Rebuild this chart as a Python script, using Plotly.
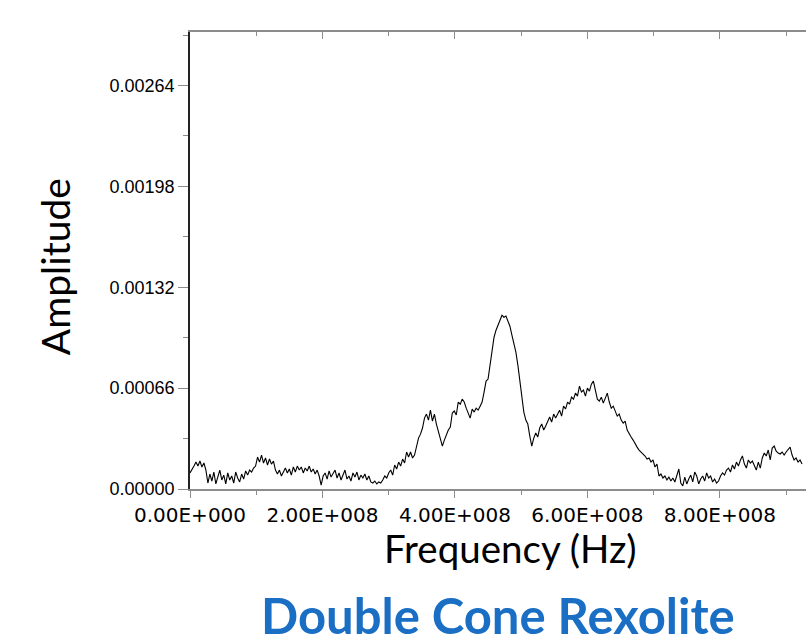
import plotly.graph_objects as go

# Amplitude samples (units of 1e-5), sampled every 3 MHz starting at 0 Hz
amp_e5 = [
    10.5, 12.4, 15.0, 17.6, 15.0, 18.3, 14.4, 17.0, 12.4, 3.9,
    9.8, 5.2, 11.1, 3.3, 8.5, 12.4, 5.9, 9.1, 3.3, 10.5,
    5.9, 8.5, 3.9, 11.1, 7.2, 4.6, 9.8, 6.5, 11.8, 9.1,
    12.4, 11.1, 13.7, 15.0, 20.9, 17.6, 22.2, 17.0, 20.3, 15.7,
    19.6, 16.3, 18.3, 12.4, 9.8, 12.4, 8.5, 11.1, 13.7, 10.5,
    13.1, 9.1, 14.4, 11.1, 15.0, 12.4, 14.4, 10.5, 13.7, 11.8,
    15.0, 11.1, 13.1, 9.8, 12.4, 8.5, 2.6, 8.5, 10.5, 6.5,
    11.8, 7.8, 9.8, 12.4, 7.2, 10.5, 5.9, 9.8, 12.4, 6.5,
    8.5, 5.2, 10.5, 7.8, 11.1, 5.9, 9.1, 7.2, 9.8, 5.9,
    8.5, 4.6, 3.9, 5.2, 3.3, 4.6, 3.9, 5.9, 8.5, 7.2,
    10.5, 12.4, 9.1, 15.7, 13.1, 17.6, 15.0, 19.6, 17.0, 24.2,
    20.9, 24.2, 20.3, 22.2, 27.4, 33.3, 35.9, 39.9, 46.4, 49.0,
    45.1, 51.6, 44.4, 49.0, 42.5, 37.2, 31.4, 28.1, 32.0, 35.9,
    38.6, 40.5, 49.7, 51.0, 48.4, 56.9, 55.5, 58.8, 56.9, 52.9,
    49.0, 46.4, 52.3, 50.3, 52.9, 51.6, 54.2, 56.9, 63.4, 70.6,
    71.9, 81.0, 92.1, 99.3, 103.9, 107.8, 110.4, 113.7, 112.4, 113.1,
    109.1, 106.5, 100.6, 94.8, 89.5, 81.0, 69.9, 59.5, 50.3, 45.1,
    42.5, 34.6, 28.1, 33.3, 36.6, 34.0, 39.9, 42.5, 38.6, 41.2,
    44.4, 47.1, 43.8, 49.0, 46.4, 49.0, 51.6, 47.7, 54.2, 52.3,
    56.9, 55.5, 60.1, 58.8, 62.7, 60.8, 67.3, 63.4, 64.7, 60.8,
    66.0, 64.0, 68.6, 70.6, 64.7, 58.8, 57.5, 60.1, 56.2, 59.5,
    62.7, 56.9, 52.9, 54.2, 50.3, 47.7, 49.0, 45.1, 43.1, 44.4,
    38.6, 35.9, 34.0, 32.0, 29.4, 27.4, 25.5, 24.2, 22.9, 21.6,
    19.6, 20.3, 17.6, 19.0, 14.4, 16.3, 8.5, 9.8, 7.2, 8.5,
    5.9, 7.8, 5.2, 7.2, 4.6, 9.8, 13.1, 3.9, 2.0, 7.8,
    3.3, 6.5, 9.1, 4.6, 11.1, 8.5, 3.3, 6.5, 8.5, 5.2,
    10.5, 7.2, 8.5, 4.6, 6.5, 3.9, 5.2, 8.5, 10.5, 9.1,
    12.4, 13.7, 11.1, 15.7, 13.1, 17.6, 15.0, 19.0, 21.6, 16.3,
    13.7, 19.0, 17.0, 18.3, 15.0, 12.4, 17.6, 13.7, 20.3, 23.5,
    21.6, 25.5, 19.0, 26.8, 28.1, 24.8, 23.5, 22.9, 24.2, 22.2,
    24.2, 25.5, 27.4, 22.2, 19.0, 20.3, 17.6, 19.0, 16.3,
]
freq_step_mhz = 3
freq_hz = [i * freq_step_mhz * 1e6 for i in range(len(amp_e5))]
amplitude = [a * 1e-5 for a in amp_e5]

x_tick_vals = [0, 2e8, 4e8, 6e8, 8e8]
x_tick_text = ["0.00E+000", "2.00E+008", "4.00E+008", "6.00E+008", "8.00E+008"]
y_tick_vals = [0.0, 0.00066, 0.00132, 0.00198, 0.00264]
y_tick_text = ["0.00000", "0.00066", "0.00132", "0.00198", "0.00264"]

X_RANGE = [0, 9.3e8]
Y_RANGE = [0, 0.00299]

fig = go.Figure()
fig.add_trace(go.Scatter(x=freq_hz, y=amplitude, mode="lines",
                         line=dict(color="black", width=1.1), hoverinfo="skip",
                         showlegend=False))
# invisible trace to realise the top axis
fig.add_trace(go.Scatter(x=freq_hz[:2], y=amplitude[:2], mode="lines", xaxis="x2",
                         line=dict(color="rgba(0,0,0,0)", width=0), hoverinfo="skip",
                         showlegend=False))

y_tick_font = dict(family="Liberation Sans, Arial, sans-serif", size=18, color="black")
x_tick_font = dict(family="DejaVu Sans, Arial, sans-serif", size=20, color="black")
grey = "#8c8c8c"

fig.update_layout(
    width=806, height=637,
    margin=dict(l=190, r=0, t=32, b=148),
    paper_bgcolor="white", plot_bgcolor="white",
    xaxis=dict(range=X_RANGE, tickvals=x_tick_vals, ticktext=x_tick_text,
               showgrid=False, zeroline=False, showline=True, linecolor=grey,
               linewidth=1.5, ticks="outside", ticklen=7, tickcolor=grey, tickwidth=1,
               tickfont=x_tick_font,
               minor=dict(dtick=1e8, ticks="outside", ticklen=4, tickcolor=grey,
                          showgrid=False)),
    xaxis2=dict(range=X_RANGE, overlaying="x", side="top", tickvals=x_tick_vals,
                showticklabels=False, showgrid=False, zeroline=False, showline=True,
                linecolor=grey, linewidth=1.5, ticks="inside", ticklen=7,
                tickcolor=grey, tickwidth=1,
                minor=dict(dtick=1e8, ticks="inside", ticklen=4, tickcolor=grey,
                           showgrid=False)),
    yaxis=dict(range=Y_RANGE, tickvals=y_tick_vals, ticktext=y_tick_text,
               showgrid=False, zeroline=False, showline=True, linecolor="#222222",
               linewidth=1.5, ticks="outside", ticklen=10, tickcolor=grey, tickwidth=1,
               tickfont=y_tick_font,
               minor=dict(dtick=0.00033, ticks="outside", ticklen=5, tickcolor=grey,
                          showgrid=False)),
    font=dict(family="Liberation Sans, Arial, sans-serif"),
    annotations=[
        dict(text="Frequency (Hz)", xref="paper", yref="paper", x=0.521, y=-0.13,
             xanchor="center", yanchor="middle", showarrow=False,
             font=dict(family="Lato, Carlito, sans-serif", size=38.5, color="black")),
        dict(text="Amplitude", xref="paper", yref="paper", x=-0.218, y=0.487,
             xanchor="center", yanchor="middle", textangle=-90, showarrow=False,
             font=dict(family="Lato, Carlito, sans-serif", size=39, color="black")),
        dict(text="<b>Double Cone Rexolite</b>", xref="paper", yref="paper", x=0.5,
             y=-0.2757, xanchor="center", yanchor="middle", showarrow=False,
             font=dict(family="Lato, Carlito, sans-serif", size=49, color="#1A6FC4")),
    ],
)

fig.write_html("out.html")
